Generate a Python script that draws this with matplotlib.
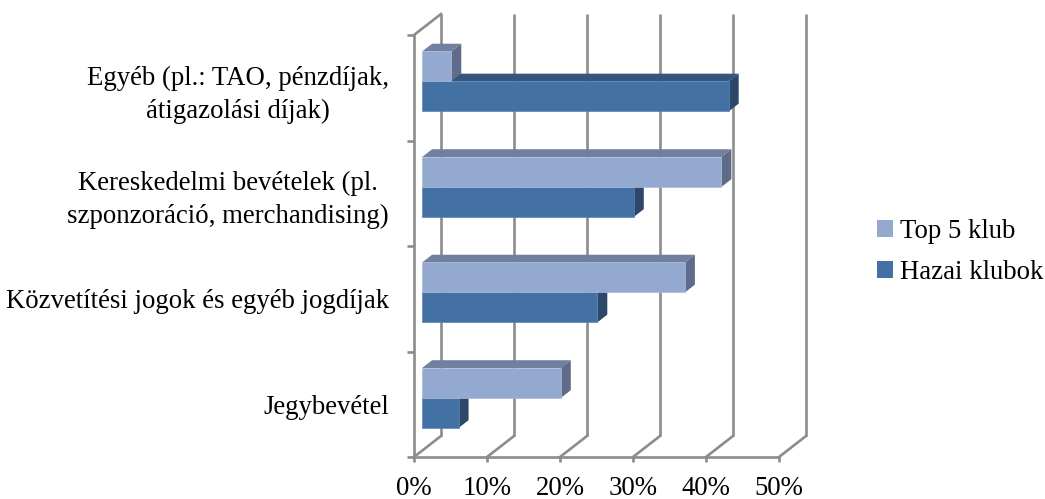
import matplotlib
matplotlib.use("Agg")
import matplotlib.pyplot as plt
from matplotlib.patches import Polygon, Patch

plt.rcParams['font.family'] = ['Liberation Serif', 'DejaVu Serif']

# ---- data (bottom to top) ----
categories = ["Jegybevétel",
              "Közvetítési jogok és egyéb jogdíjak",
              "Kereskedelmi bevételek (pl.\nszponzoráció, merchandising)",
              "Egyéb (pl.: TAO, pénzdíjak,\nátigazolási díjak)"]
top5 = [19, 36, 41, 4]
hazai = [5, 24, 29, 42]
series_names = ["Top 5 klub", "Hazai klubok"]
xticks = [0, 10, 20, 30, 40, 50]
xticklabels = ["0%", "10%", "20%", "30%", "40%", "50%"]

# ---- style ----
FS = 19.3
GRID = "#8c8c8c"
light = dict(front="#93a9cf", top="#72809f", side="#5e6c89", edge="#a9bbdc")
dark = dict(front="#4371a4", top="#34557d", side="#2c4768", edge="#5a86b8")

W, H = 1045, 499
fig = plt.figure(figsize=(W / 100, H / 100), dpi=100)
ax = fig.add_axes([414 / W, 42 / H, 365 / W, 422 / H])
ax.set_xlim(0, 50)
ax.set_ylim(0, 4)

# depth offsets (full wall depth) in data units
DX = 10 * 27 / 73
DY = 4 * 21 / 422
d0, dd = 0.30, 0.37
bh = 0.284

lw = 1.9
# back wall gridlines and floor diagonals
for v in xticks:
    ax.plot([v + DX, v + DX], [DY, 4 + DY], color=GRID, lw=lw, clip_on=False, zorder=1,
            solid_capstyle='butt')
    ax.plot([v, v + DX], [0, DY], color=GRID, lw=lw, clip_on=False, zorder=1)
ax.plot([0, DX], [4, 4 + DY], color=GRID, lw=lw, clip_on=False, zorder=1)

for s in ["top", "right"]:
    ax.spines[s].set_visible(False)
for s in ["left", "bottom"]:
    ax.spines[s].set_color(GRID)
    ax.spines[s].set_linewidth(lw)
    ax.spines[s].set_zorder(1)


def bar3d(v, yb, col):
    x0 = d0 * DX
    y0 = yb + d0 * DY
    ox, oy = dd * DX, dd * DY
    front = Polygon([(x0, y0), (x0 + v, y0), (x0 + v, y0 + bh), (x0, y0 + bh)],
                    closed=True, facecolor=col["front"], edgecolor=col["edge"], lw=0.5,
                    clip_on=False, zorder=3)
    top = Polygon([(x0, y0 + bh), (x0 + v, y0 + bh), (x0 + v + ox, y0 + bh + oy),
                   (x0 + ox, y0 + bh + oy)], closed=True, facecolor=col["top"],
                  edgecolor='none', clip_on=False, zorder=3)
    side = Polygon([(x0 + v, y0), (x0 + v, y0 + bh), (x0 + v + ox, y0 + bh + oy),
                    (x0 + v + ox, y0 + oy)], closed=True, facecolor=col["side"],
                   edgecolor='none', clip_on=False, zorder=3)
    for p in (top, side, front):
        ax.add_patch(p)


for i in range(len(categories)):
    c = i + 0.5
    bar3d(hazai[i], c - bh, dark)
    bar3d(top5[i], c, light)

# ticks
ax.set_xticks(xticks, xticklabels, fontsize=FS)
ax.tick_params(axis='x', direction='out', length=3.5, width=lw, color=GRID, pad=10)
ax.set_yticks([0, 1, 2, 3, 4], [])
ax.tick_params(axis='y', which='major', direction='out', length=5, width=lw, color=GRID)
ax.set_yticks([i + 0.5 for i in range(len(categories))], categories, minor=True)
ax.tick_params(axis='y', which='minor', length=0, pad=18, labelsize=FS)
for t in ax.get_yticklabels(minor=True):
    t.set_multialignment('center')
    t.set_linespacing(1.4)

handles = [Patch(facecolor=light["front"], edgecolor='none'),
           Patch(facecolor=dark["front"], edgecolor='none')]
fig.legend(handles, series_names, loc='center left', bbox_to_anchor=(864 / W, 1 - 252 / H),
           frameon=False, fontsize=FS, handlelength=0.6, handleheight=0.6,
           handletextpad=0.25, labelspacing=0.62, borderpad=0)

fig.savefig("out.png", dpi=100)
